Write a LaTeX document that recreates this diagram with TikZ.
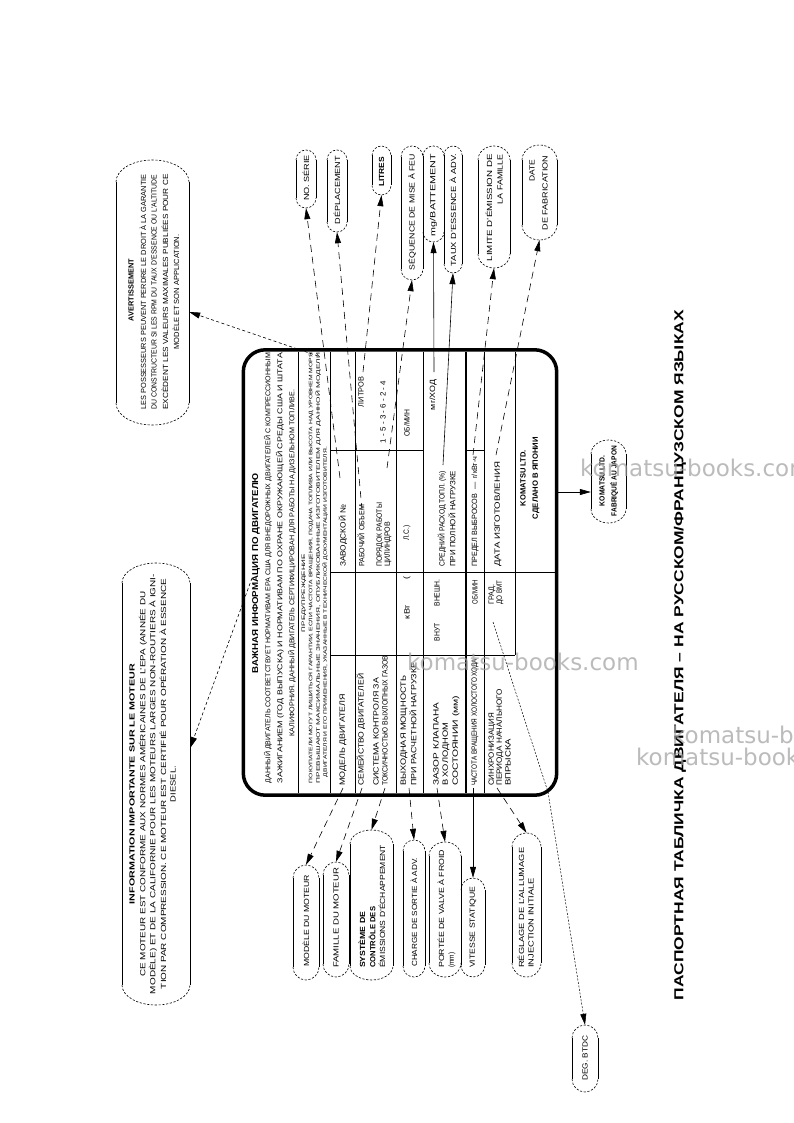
\documentclass[tikz,border=0pt]{standalone}
\usepackage{fontspec}
\usepackage{graphicx}
\setmainfont{Liberation Sans}
\newfontfamily\wmfont{DejaVu Sans}
\usetikzlibrary{arrows.meta}
\newcommand\fx[2]{\resizebox{#1pt}{\height}{#2}}
% left-aligned (text starts at page y #4), centred, right-aligned rotated texts
\newcommand\tl[6]{\node[#2, anchor=west] (#1) at (#3,#4) {\fx{#5}{#6}};}
\newcommand\tc[6]{\node[#2] (#1) at (#3,#4) {\fx{#5}{#6}};}
\newcommand\tr[6]{\node[#2, anchor=east] (#1) at (#3,#4) {\fx{#5}{#6}};}
% callout: name x1 y1 x2 y2 r
\newcommand\cbx[6]{%
  \node[cbox, minimum width={(#4-#2)*1pt}, minimum height={(#5-#3)*1pt}] (#1) at ({(#2+#4)/2},{(#3+#5)/2}) {};
  \draw[cside] (#2,#3+#6) -- (#2,#5-#6) (#4,#3+#6) -- (#4,#5-#6);
  \draw[cend] (#2,#3+#6) arc[start angle=180, end angle=360, x radius={(#4-#2)/2}, y radius=#6];
  \draw[cend] (#2,#5-#6) arc[start angle=180, end angle=0, x radius={(#4-#2)/2}, y radius=#6];}
\begin{document}
\begin{tikzpicture}[x=1pt,y=-1pt,
  tx/.style={rotate=90, inner sep=0pt, font=\fontsize{7.6}{8}\selectfont},
  tb/.style={rotate=90, inner sep=0pt, font=\bfseries\fontsize{7.6}{8}\selectfont},
  hb/.style={rotate=90, inner sep=0pt, font=\bfseries\fontsize{8.5}{9}\selectfont},
  tp/.style={rotate=90, inner sep=0pt, font=\fontsize{7}{7}\selectfont},
  ts/.style={rotate=90, inner sep=0pt, font=\fontsize{5}{5}\selectfont},
  ct/.style={rotate=90, inner sep=0pt, font=\fontsize{7.4}{8}\selectfont},
  cb/.style={rotate=90, inner sep=0pt, font=\bfseries\fontsize{7.4}{8}\selectfont},
  ttl/.style={rotate=90, inner sep=0pt, font=\bfseries\fontsize{13}{14}\selectfont},
  wm/.style={inner sep=0pt, anchor=west, text=gray!75, opacity=0.7, font=\wmfont\fontsize{23}{24}\selectfont},
  cbox/.style={inner sep=0pt, draw=none},
  cside/.style={line width=0.6pt},
  cend/.style={line width=0.6pt, dash pattern=on 2.2pt off 1.6pt},
  lead/.style={line width=0.6pt, dash pattern=on 7pt off 5pt, -{Triangle[length=11pt,width=6pt]}},
  slead/.style={line width=0.6pt, -{Triangle[length=11pt,width=6pt]}},
  pl/.style={line width=0.6pt},
  plthick/.style={line width=2pt}]
\fill[white] (0,0) rectangle (793,1123);
\useasboundingbox (0,0) rectangle (793,1123);

% ---------------- plate ----------------
\node[cbox, minimum width=313pt, minimum height=445pt] (plate) at (400,572.5) {};
\draw[line width=3.5pt, rounded corners=22pt] (plate.north west) rectangle (plate.south east);
\draw[pl] (298,352) -- (298,793);
\draw[pl] (330,352) -- (330,793);
\draw[pl] (355,352) -- (355,793);
\draw[pl] (396,352) -- (396,793);
\draw[pl] (423,352) -- (423,793);
\draw[plthick] (466,352) -- (466,793);
\draw[pl] (484,352) -- (484,793);
\draw[pl] (515,352) -- (515,655);
\draw[pl] (330,655) -- (515,655);
\draw[pl] (330,572) -- (555,572);
\draw[pl] (330,450) -- (423,450);
\draw[pl] (466,450) -- (484,450);

\tc{hdr}{hb}{256}{573}{200}{ВАЖНАЯ ИНФОРМАЦИЯ ПО ДВИГАТЕЛЮ}
\tc{p1}{tp}{268}{568}{430}{ДАННЫЙ ДВИГАТЕЛЬ СООТВЕТСТВУЕТ НОРМАТИВАМ EPA США ДЛЯ ВНЕДОРОЖНЫХ ДВИГАТЕЛЕЙ С КОМПРЕССИОННЫМ}
\tc{p2}{tp}{280}{568}{430}{ЗАЖИГАНИЕМ (ГОД ВЫПУСКА) И НОРМАТИВАМ ПО ОХРАНЕ ОКРУЖАЮЩЕЙ СРЕДЫ США И ШТАТА}
\tc{p3}{tp}{292}{563}{347}{КАЛИФОРНИЯ. ДАННЫЙ ДВИГАТЕЛЬ СЕРТИФИЦИРОВАН ДЛЯ РАБОТЫ НА ДИЗЕЛЬНОМ ТОПЛИВЕ.}
\tc{wtit}{ts}{304}{593}{78}{ПРЕДУПРЕЖДЕНИЕ}
\tc{w1}{ts}{311}{568}{430}{ПОКУПАТЕЛИ МОГУТ ЛИШИТЬСЯ ГАРАНТИИ, ЕСЛИ ЧАСТОТА ВРАЩЕНИЯ, ПОДАЧА ТОПЛИВА ИЛИ ВЫСОТА НАД УРОВНЕМ МОРЯ}
\tc{w2}{ts}{318}{568}{430}{ПРЕВЫШАЮТ МАКСИМАЛЬНЫЕ ЗНАЧЕНИЯ, ОПУБЛИКОВАННЫЕ ИЗГОТОВИТЕЛЕМ ДЛЯ ДАННОЙ МОДЕЛИ}
\tc{w3}{ts}{325}{612}{330}{ДВИГАТЕЛЯ И ЕГО ПРИМЕНЕНИЯ, УКАЗАННЫЕ В ТЕХНИЧЕСКОЙ ДОКУМЕНТАЦИИ ИЗГОТОВИТЕЛЯ.}

% column 1
\tl{c11}{tx}{343}{786}{92}{МОДЕЛЬ ДВИГАТЕЛЯ}
\tl{c12}{tx}{361}{786}{112}{СЕМЕЙСТВО ДВИГАТЕЛЕЙ}
\tl{c13a}{tx}{376}{786}{108}{СИСТЕМА КОНТРОЛЯ ЗА}
\tl{c13b}{tx}{385}{786}{130}{ТОКСИЧНОСТЬЮ ВЫХЛОПНЫХ ГАЗОВ}
\tl{c14a}{tx}{404}{786}{110}{ВЫХОДНАЯ МОЩНОСТЬ}
\tl{c14b}{tx}{413}{786}{123}{ПРИ РАСЧЕТНОЙ НАГРУЗКЕ}
\tl{c15a}{tx}{436}{786}{83}{ЗАЗОР КЛАПАНА}
\tl{c15b}{tx}{446}{786}{63}{В ХОЛОДНОМ}
\tl{c15c}{tx}{456}{786}{90}{СОСТОЯНИИ (мм)}
\tl{c16}{tx}{475}{786}{127}{ЧАСТОТА ВРАЩЕНИЯ ХОЛОСТОГО ХОДА}
\tl{c17a}{tx}{492}{786}{73}{СИНХРОНИЗАЦИЯ}
\tl{c17b}{tx}{500}{786}{97}{ПЕРИОДА НАЧАЛЬНОГО}
\tl{c17c}{tx}{508}{786}{47}{ВПРЫСКА}
% column 2
\tc{c24a}{tx}{407}{612}{14}{кВт}
\tc{c24b}{tx}{407}{578}{3}{(}
\tc{c25a}{tx}{437}{632}{18}{ВНУТ}
\tc{c25b}{tx}{437}{593}{27}{ВНЕШН.}
\tc{c26}{tx}{475}{592}{24}{ОБ/МИН}
\tl{c27a}{tx}{492}{605}{20}{ГРАД.}
\tl{c27b}{tx}{500}{605}{24}{ДО ВМТ}
% column 3
\tl{c31}{tx}{343}{567}{62}{ЗАВОДСКОЙ №}
\tl{c32}{tx}{361}{567}{62}{РАБОЧИЙ ОБЪЕМ}
\tl{c33a}{tx}{380}{567}{64}{ПОРЯДОК РАБОТЫ}
\tl{c33b}{tx}{388}{567}{45}{ЦИЛИНДРОВ}
\tc{c34}{tx}{407}{533}{15}{Л.С.)}
\tl{c35a}{tx}{442}{567}{96}{СРЕДНИЙ РАСХОД ТОПЛ. (\%)}
\tl{c35b}{tx}{452}{567}{96}{ПРИ ПОЛНОЙ НАГРУЗКЕ}
\tl{c36}{tx}{475}{567}{110}{ПРЕДЕЛ ВЫБРОСОВ \ — \ г/кВт-ч}
\tl{c37}{tx}{498}{567}{105}{ДАТА ИЗГОТОВЛЕНИЯ}
% column 4
\tc{c42}{tx}{361}{392}{30}{ЛИТРОВ}
\tc{c43}{tx}{383}{412}{62}{1 - 5 - 3 - 6 - 2 - 4}
\tc{c44}{tx}{407}{423}{27}{ОБ/МИН}
\tc{c45}{tx}{433}{395}{30}{мг/ХОД}
\tc{k1}{tb}{523}{478}{56}{KOMATSU LTD.}
\tc{k2}{tb}{536}{478}{82}{СДЕЛАНО В ЯПОНИИ}

% ---------------- callouts top ----------------
\cbx{ser}{296}{150}{316}{208}{10}
\tc{t_ser}{ct}{306}{178}{46}{NO. SÉRIE}
\cbx{dep}{327}{150}{347}{232}{10}
\tc{t_dep}{ct}{337}{190}{68}{DÉPLACEMENT}
\cbx{lit}{372}{146}{391}{195}{9.5}
\tc{t_lit}{cb}{381.5}{172}{30}{LITRES}
\cbx{seq}{401}{146}{423}{280}{11}
\tc{t_seq}{ct}{412}{212}{116}{SÉQUENCE DE MISE À FEU}
\cbx{mgb}{423}{146}{444}{242}{10}
\tc{t_mgb}{ct}{433.5}{195}{82}{mg/BATTEMENT}
\cbx{tau}{444}{146}{462}{273}{9}
\tc{t_tau}{ct}{453}{210}{112}{TAUX D'ESSENCE À ADV.}
\cbx{lim}{478}{146}{510}{268}{14}
\tr{t_lim1}{ct}{489}{154}{107}{LIMITE D'ÉMISSION DE}
\tr{t_lim2}{ct}{500}{154}{50}{LA FAMILLE}
\cbx{dat}{522}{145}{557}{240}{15}
\tc{t_dat1}{ct}{532}{171}{22}{DATE}
\tc{t_dat2}{ct}{545}{193}{75}{DE FABRICATION}

% ---------------- callouts bottom ----------------
\cbx{mod}{293}{865}{319}{980}{13}
\tl{t_mod}{ct}{306}{967}{92}{MODÈLE DU MOTEUR}
\cbx{fam}{323}{862}{349}{977}{13}
\tl{t_fam}{ct}{336}{968}{100}{FAMILLE DU MOTEUR}
\cbx{sys}{350}{830}{393}{980}{14}
\tl{t_sys1}{cb}{362}{968}{56}{SYSTÈME DE}
\tl{t_sys2}{cb}{372}{968}{61}{CONTRÔLE DES}
\tl{t_sys3}{ct}{382}{968}{123}{ÉMISSIONS D'ÉCHAPPEMENT}
\cbx{chg}{403}{840}{425}{977}{11}
\tl{t_chg}{ct}{414}{967}{109}{CHARGE DE SORTIE À ADV.}
\cbx{por}{429}{842}{461}{977}{14}
\tl{t_por1}{ct}{441}{968}{118}{PORTÉE DE VALVE À FROID}
\tl{t_por2}{ct}{452}{968}{15}{(mm)}
\cbx{vit}{461}{878}{485}{977}{12}
\tl{t_vit}{ct}{473}{968}{81}{VITESSE STATIQUE}
\cbx{reg}{512}{833}{541}{977}{14}
\tl{t_reg1}{ct}{521}{968}{120}{RÉGLAGE DE L'ALLUMAGE}
\tl{t_reg2}{ct}{531}{968}{90}{INJECTION INITIALE}
\cbx{deg}{572}{1025}{598}{1092}{13}
\tc{t_deg}{ct}{585}{1058}{45}{DEG. BTDC}

% ---------------- left boxes ----------------
\cbx{avt}{116}{160}{189}{425}{22}
\tc{t_avt0}{cb}{131}{290}{62}{AVERTISSEMENT}
\tc{t_avt1}{ct}{143}{292}{235}{LES POSSESSEURS PEUVENT PERDRE LE DROIT À LA GARANTIE}
\tc{t_avt2}{ct}{154}{292}{235}{DU CONSTRUCTEUR SI LES RPM DU TAUX D'ESSENCE OU L'ALTITUDE}
\tc{t_avt3}{ct}{165}{292}{235}{EXCÈDENT LES VALEURS MAXIMALES PUBLIÉES POUR CE}
\tc{t_avt4}{ct}{176}{292}{115}{MODÈLE ET SON APPLICATION.}

\cbx{inf}{122}{563}{190}{1005}{20}
\tc{t_inf0}{cb}{132}{784}{240}{INFORMATION IMPORTANTE SUR LE MOTEUR}
\tc{t_inf1}{ct}{143}{784}{385}{CE MOTEUR EST CONFORME AUX NORMES AMÉRICAINES DE L'EPA (ANNÉE DU}
\tc{t_inf2}{ct}{153}{784}{420}{MODÈLE) ET DE LA CALIFORNIE POUR LES MOTEURS LARGES NON-ROUTIERS À IGNI-}
\tc{t_inf3}{ct}{163}{784}{410}{TION PAR COMPRESSION. CE MOTEUR EST CERTIFIÉ POUR OPÉRATION À ESSENCE}
\tc{t_inf4}{ct}{173}{784}{36}{DIESEL.}

\cbx{kom}{591}{440}{626}{523}{14}
\tc{t_kom1}{cb}{602}{481}{50}{KOMATSU LTD.}
\tc{t_kom2}{cb}{614}{481}{70}{FABRIQUÉ AU JAPON}

% ---------------- connectors ----------------
\coordinate (s_ser) at (340,478);
\coordinate (s_dep) at (362,510);
\coordinate (s_lit) at (363,372);
\coordinate (s_seq) at (387,468);
\coordinate (s_mgb) at (434,372);
\coordinate (s_tau) at (443,465);
\coordinate (s_lim) at (473,455);
\coordinate (s_dat) at (496,455);
\draw[lead] (s_ser) -- (ser.south);
\draw[lead] (s_dep) -- (dep.south);
\draw[lead] (s_lit) -- (lit.south);
\draw[lead] (s_seq) -- (seq.south);
\draw[slead] (s_mgb) -- (mgb.south);
\draw[slead] (s_tau) -- (tau.south);
\draw[lead] (s_lim) -- (lim.south);
\draw[lead] (s_dat) -- (dat.south);

\coordinate (s_mod) at (343,788);
\coordinate (s_fam) at (362,788);
\coordinate (s_sys) at (385,788);
\coordinate (s_chg) at (409,788);
\coordinate (s_por) at (437,788);
\coordinate (s_vit) at (473,788);
\coordinate (s_reg) at (497,788);
\coordinate (s_deg) at (493,622);
\coordinate (b_deg) at (548,792);
\draw[lead] (s_mod) -- (mod.north);
\draw[lead] (s_fam) -- (fam.north);
\draw[lead] (s_sys) -- (sys.north);
\draw[lead] (s_chg) -- (chg.north);
\draw[lead] (s_por) -- (por.north);
\draw[slead] (s_vit) -- (vit.north);
\draw[lead] (s_reg) -- (reg.north);
\draw[line width=0.5pt, dash pattern=on 2pt off 1.5pt, -{Triangle[length=11pt,width=6pt]}] (s_deg) -- (b_deg) -- (deg.north);

\coordinate (s_avt) at (318,356);
\coordinate (s_inf) at (252,578);
\coordinate (s_kom) at (556,492);
\draw[lead, dash pattern=on 3pt off 2.5pt] (s_avt) -- ([yshift=-19.5pt]avt.east);
\draw[lead, dash pattern=on 3pt off 2.5pt] (s_inf) -- ([yshift=36pt]inf.east);
\draw[slead] (s_kom) -- (s_kom -| kom.west);

% ---------------- title ----------------
\tc{title}{ttl}{680}{655}{690}{ПАСПОРТНАЯ ТАБЛИЧКА ДВИГАТЕЛЯ – НА РУССКОМ/ФРАНЦУЗСКОМ ЯЗЫКАХ}

% ---------------- watermarks ----------------
\node[wm] (wm1) at (580,468) {komatsu-books.com};
\node[wm] (wm2) at (407,662) {komatsu-books.com};
\node[wm] (wm3) at (672,735) {komatsu-books.com};
\node[wm] (wm4) at (636,757) {komatsu-books.com};
\end{tikzpicture}
\end{document}
